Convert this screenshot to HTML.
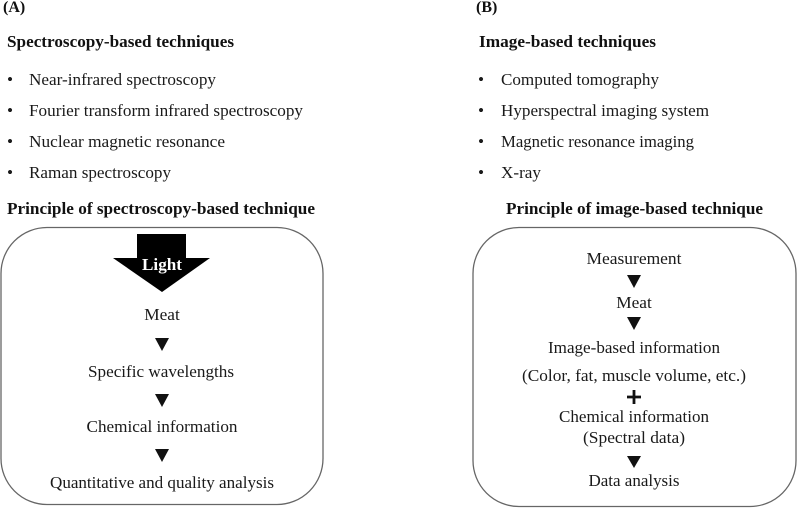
<!DOCTYPE html>
<html>
<head>
<meta charset="utf-8">
<style>
html,body{margin:0;padding:0;background:#fff;width:797px;height:510px;overflow:hidden}
svg{display:block}
text{font-family:"Liberation Serif",serif;font-size:17.300px;fill:#1a1a1a}
.b{font-weight:bold;fill:#111;font-size:17px}
.m{text-anchor:middle}
.t{font-size:16px}
</style>
</head>
<body>
<svg width="797" height="510" viewBox="0 0 797 510" xmlns="http://www.w3.org/2000/svg">
<text class="b t" x="3" y="12">(A)</text>
<text class="b t" x="476" y="12">(B)</text>

<text class="b" x="7" y="47" textLength="227" lengthAdjust="spacingAndGlyphs">Spectroscopy-based techniques</text>
<text x="7" y="85">•</text><text x="29" y="85" textLength="187" lengthAdjust="spacingAndGlyphs">Near-infrared spectroscopy</text>
<text x="7" y="116">•</text><text x="29" y="116" textLength="274" lengthAdjust="spacingAndGlyphs">Fourier transform infrared spectroscopy</text>
<text x="7" y="147">•</text><text x="29" y="147" textLength="196" lengthAdjust="spacingAndGlyphs">Nuclear magnetic resonance</text>
<text x="7" y="178">•</text><text x="29" y="178" textLength="142" lengthAdjust="spacingAndGlyphs">Raman spectroscopy</text>
<text class="b" x="7" y="214" textLength="308" lengthAdjust="spacingAndGlyphs">Principle of spectroscopy-based technique</text>

<rect x="1" y="227.500" width="322" height="277" rx="46" ry="46" fill="#fff" stroke="#666" stroke-width="1.300"/>
<polygon points="137,234 186,234 186,258 210,258 162,292 113,258 137,258" fill="#000"/>
<text class="b m" x="162" y="270" style="fill:#fff" textLength="40" lengthAdjust="spacingAndGlyphs">Light</text>
<text class="m" x="162" y="320">Meat</text>
<polygon points="155,338 169,338 162,351" fill="#111"/>
<text class="m" x="161" y="377" textLength="146" lengthAdjust="spacingAndGlyphs">Specific wavelengths</text>
<polygon points="155,394 169,394 162,407" fill="#111"/>
<text class="m" x="162" y="432" textLength="151" lengthAdjust="spacingAndGlyphs">Chemical information</text>
<polygon points="155,449 169,449 162,462" fill="#111"/>
<text class="m" x="162" y="488" textLength="224" lengthAdjust="spacingAndGlyphs">Quantitative and quality analysis</text>

<text class="b" x="479" y="47" textLength="177" lengthAdjust="spacingAndGlyphs">Image-based techniques</text>
<text x="478" y="85">•</text><text x="501" y="85" textLength="158" lengthAdjust="spacingAndGlyphs">Computed tomography</text>
<text x="478" y="116">•</text><text x="501" y="116" textLength="208" lengthAdjust="spacingAndGlyphs">Hyperspectral imaging system</text>
<text x="478" y="147">•</text><text x="501" y="147" textLength="193" lengthAdjust="spacingAndGlyphs">Magnetic resonance imaging</text>
<text x="478" y="178">•</text><text x="501" y="178" textLength="40" lengthAdjust="spacingAndGlyphs">X-ray</text>
<text class="b" x="506" y="214" textLength="257" lengthAdjust="spacingAndGlyphs">Principle of image-based technique</text>

<rect x="473" y="227.500" width="323" height="279" rx="46" ry="46" fill="#fff" stroke="#666" stroke-width="1.300"/>
<text class="m" x="634" y="264" textLength="95" lengthAdjust="spacingAndGlyphs">Measurement</text>
<polygon points="627,275 641,275 634,288" fill="#111"/>
<text class="m" x="634" y="308">Meat</text>
<polygon points="627,317 641,317 634,330" fill="#111"/>
<text class="m" x="634" y="353" textLength="172" lengthAdjust="spacingAndGlyphs">Image-based information</text>
<text class="m" x="634" y="381" textLength="224" lengthAdjust="spacingAndGlyphs">(Color, fat, muscle volume, etc.)</text>
<path d="M634 390V404M627 397H641" stroke="#111" stroke-width="2.800" fill="none"/>
<text class="m" x="634" y="422" textLength="150" lengthAdjust="spacingAndGlyphs">Chemical information</text>
<text class="m" x="634" y="443" textLength="102" lengthAdjust="spacingAndGlyphs">(Spectral data)</text>
<polygon points="627,456 641,456 634,468" fill="#111"/>
<text class="m" x="634" y="486" textLength="91" lengthAdjust="spacingAndGlyphs">Data analysis</text>
</svg>
</body>
</html>
